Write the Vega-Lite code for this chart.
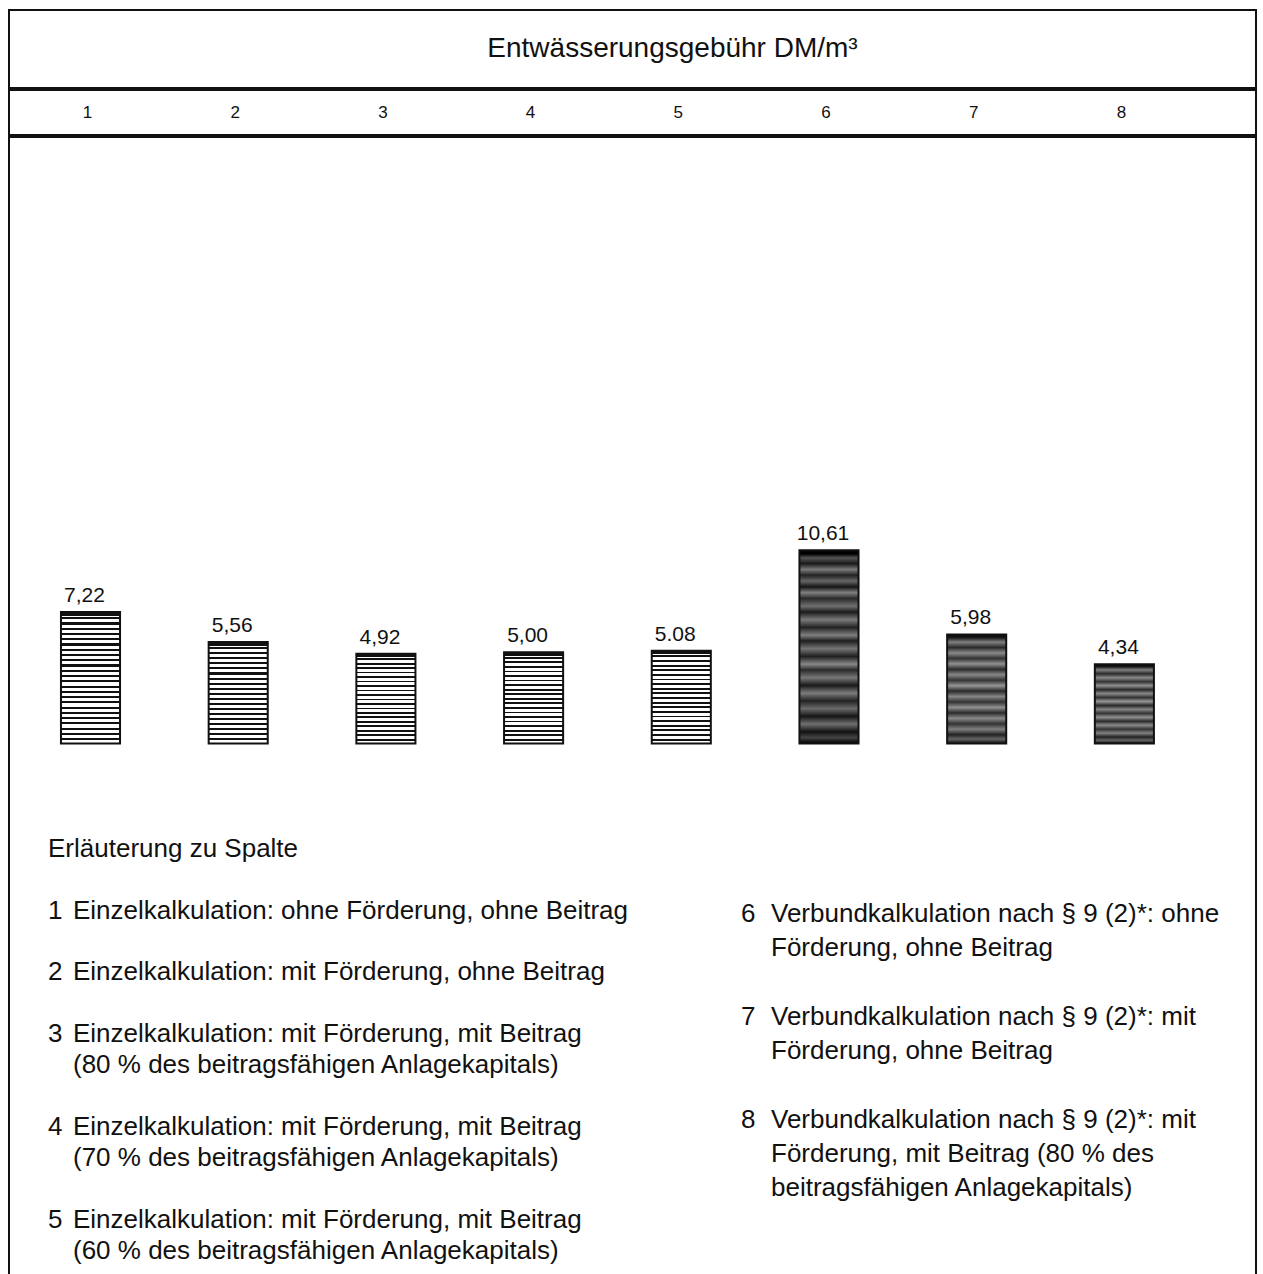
{
  "$schema": "https://vega.github.io/schema/vega-lite/v6.json",
  "padding": {"left": 8, "top": 9, "right": 0, "bottom": 0},
  "background": "white",
  "spacing": 0,
  "config": {
    "view": {"stroke": "#111", "strokeWidth": 2},
    "font": "Liberation Sans",
    "text": {"font": "Liberation Sans", "color": "#111"}
  },
  "datasets": {
    "saeulen": [
      {"n": 1, "wert": 7.22, "label": "7,22"},
      {"n": 2, "wert": 5.56, "label": "5,56"},
      {"n": 3, "wert": 4.92, "label": "4,92"},
      {"n": 4, "wert": 5.00, "label": "5,00"},
      {"n": 5, "wert": 5.08, "label": "5.08"},
      {"n": 6, "wert": 10.61, "label": "10,61"},
      {"n": 7, "wert": 5.98, "label": "5,98"},
      {"n": 8, "wert": 4.34, "label": "4,34"}
    ],
    "kopf": [{"zeile": 0, "text": "Erläuterung zu Spalte"}],
    "links": [
      {"zeile": 2, "nr": "1", "text": "Einzelkalkulation: ohne Förderung, ohne Beitrag"},
      {"zeile": 4, "nr": "2", "text": "Einzelkalkulation: mit Förderung, ohne Beitrag"},
      {"zeile": 6, "nr": "3", "text": "Einzelkalkulation: mit Förderung, mit Beitrag"},
      {"zeile": 7, "nr": "", "text": "(80 % des beitragsfähigen Anlagekapitals)"},
      {"zeile": 9, "nr": "4", "text": "Einzelkalkulation: mit Förderung, mit Beitrag"},
      {"zeile": 10, "nr": "", "text": "(70 % des beitragsfähigen Anlagekapitals)"},
      {"zeile": 12, "nr": "5", "text": "Einzelkalkulation: mit Förderung, mit Beitrag"},
      {"zeile": 13, "nr": "", "text": "(60 % des beitragsfähigen Anlagekapitals)"}
    ],
    "rechts": [
      {"zeile": 0, "nr": "6", "text": "Verbundkalkulation nach § 9 (2)*: ohne"},
      {"zeile": 1, "nr": "", "text": "Förderung, ohne Beitrag"},
      {"zeile": 3, "nr": "7", "text": "Verbundkalkulation nach § 9 (2)*: mit"},
      {"zeile": 4, "nr": "", "text": "Förderung, ohne Beitrag"},
      {"zeile": 6, "nr": "8", "text": "Verbundkalkulation nach § 9 (2)*: mit"},
      {"zeile": 7, "nr": "", "text": "Förderung, mit Beitrag (80 % des"},
      {"zeile": 8, "nr": "", "text": "beitragsfähigen Anlagekapitals)"}
    ]
  },
  "vconcat": [
    {
      "width": 1247,
      "height": 78,
      "view": {"stroke": "#111", "strokeWidth": 2, "fill": "white"},
      "data": {"values": [{"titel": "Entwässerungsgebühr DM/m³"}]},
      "mark": {"type": "text", "fontSize": 28, "dx": 40, "baseline": "middle"},
      "encoding": {"text": {"field": "titel"}}
    },
    {
      "width": 1247,
      "height": 45,
      "data": {"name": "saeulen"},
      "mark": {"type": "text", "fontSize": 17, "baseline": "middle"},
      "encoding": {
        "x": {"field": "n", "type": "ordinal", "scale": {"type": "band", "paddingInner": 0, "paddingOuter": 0.2215, "align": 0.071}, "axis": null},
        "text": {"field": "n"}
      }
    },
    {
      "width": 1247,
      "height": 1143,
      "resolve": {"scale": {"x": "independent", "y": "independent"}},
      "layer": [
        {
          "data": {"name": "saeulen"},
          "mark": {"type": "bar", "width": {"band": 0.4}, "stroke": "#111", "strokeWidth": 2},
          "encoding": {
            "x": {"field": "n", "type": "ordinal", "scale": {"type": "band", "paddingInner": 0, "paddingOuter": 0.2215, "align": 0.117}, "axis": null},
            "y": {"field": "wert", "type": "quantitative", "scale": {"domain": [-29.465, 33.295], "nice": false, "zero": false}, "axis": null},
            "y2": {"datum": 0},
            "fill": {
              "condition": [
                {"test": "datum.n == 1", "value": {"gradient": "linear", "x1": 0, "y1": 0, "x2": 0, "y2": 1, "stops": [
                  {"offset":0,"color":"#111"},{"offset":0.03,"color":"#111"},{"offset":0.03,"color":"#fff"},{"offset":0.04,"color":"#fff"},
                  {"offset":0.04,"color":"#111"},{"offset":0.056,"color":"#111"},{"offset":0.056,"color":"#fff"},{"offset":0.08,"color":"#fff"},
                  {"offset":0.08,"color":"#111"},{"offset":0.096,"color":"#111"},{"offset":0.096,"color":"#fff"},{"offset":0.12,"color":"#fff"},
                  {"offset":0.12,"color":"#111"},{"offset":0.136,"color":"#111"},{"offset":0.136,"color":"#fff"},{"offset":0.16,"color":"#fff"},
                  {"offset":0.16,"color":"#111"},{"offset":0.176,"color":"#111"},{"offset":0.176,"color":"#fff"},{"offset":0.2,"color":"#fff"},
                  {"offset":0.2,"color":"#111"},{"offset":0.216,"color":"#111"},{"offset":0.216,"color":"#fff"},{"offset":0.24,"color":"#fff"},
                  {"offset":0.24,"color":"#111"},{"offset":0.256,"color":"#111"},{"offset":0.256,"color":"#fff"},{"offset":0.28,"color":"#fff"},
                  {"offset":0.28,"color":"#111"},{"offset":0.296,"color":"#111"},{"offset":0.296,"color":"#fff"},{"offset":0.32,"color":"#fff"},
                  {"offset":0.32,"color":"#111"},{"offset":0.336,"color":"#111"},{"offset":0.336,"color":"#fff"},{"offset":0.36,"color":"#fff"},
                  {"offset":0.36,"color":"#111"},{"offset":0.376,"color":"#111"},{"offset":0.376,"color":"#fff"},{"offset":0.4,"color":"#fff"},
                  {"offset":0.4,"color":"#111"},{"offset":0.416,"color":"#111"},{"offset":0.416,"color":"#fff"},{"offset":0.44,"color":"#fff"},
                  {"offset":0.44,"color":"#111"},{"offset":0.456,"color":"#111"},{"offset":0.456,"color":"#fff"},{"offset":0.48,"color":"#fff"},
                  {"offset":0.48,"color":"#111"},{"offset":0.496,"color":"#111"},{"offset":0.496,"color":"#fff"},{"offset":0.52,"color":"#fff"},
                  {"offset":0.52,"color":"#111"},{"offset":0.536,"color":"#111"},{"offset":0.536,"color":"#fff"},{"offset":0.56,"color":"#fff"},
                  {"offset":0.56,"color":"#111"},{"offset":0.576,"color":"#111"},{"offset":0.576,"color":"#fff"},{"offset":0.6,"color":"#fff"},
                  {"offset":0.6,"color":"#111"},{"offset":0.616,"color":"#111"},{"offset":0.616,"color":"#fff"},{"offset":0.64,"color":"#fff"},
                  {"offset":0.64,"color":"#111"},{"offset":0.656,"color":"#111"},{"offset":0.656,"color":"#fff"},{"offset":0.68,"color":"#fff"},
                  {"offset":0.68,"color":"#111"},{"offset":0.696,"color":"#111"},{"offset":0.696,"color":"#fff"},{"offset":0.72,"color":"#fff"},
                  {"offset":0.72,"color":"#111"},{"offset":0.736,"color":"#111"},{"offset":0.736,"color":"#fff"},{"offset":0.76,"color":"#fff"},
                  {"offset":0.76,"color":"#111"},{"offset":0.776,"color":"#111"},{"offset":0.776,"color":"#fff"},{"offset":0.8,"color":"#fff"},
                  {"offset":0.8,"color":"#111"},{"offset":0.816,"color":"#111"},{"offset":0.816,"color":"#fff"},{"offset":0.84,"color":"#fff"},
                  {"offset":0.84,"color":"#111"},{"offset":0.856,"color":"#111"},{"offset":0.856,"color":"#fff"},{"offset":0.88,"color":"#fff"},
                  {"offset":0.88,"color":"#111"},{"offset":0.896,"color":"#111"},{"offset":0.896,"color":"#fff"},{"offset":0.92,"color":"#fff"},
                  {"offset":0.92,"color":"#111"},{"offset":0.936,"color":"#111"},{"offset":0.936,"color":"#fff"},{"offset":0.96,"color":"#fff"},
                  {"offset":0.96,"color":"#111"},{"offset":0.976,"color":"#111"},{"offset":0.976,"color":"#fff"},{"offset":1,"color":"#fff"}
                ]}},
                {"test": "datum.n <= 5", "value": {"gradient": "linear", "x1": 0, "y1": 0, "x2": 0, "y2": 1, "stops": [
                  {"offset":0,"color":"#111"},{"offset":0.035,"color":"#111"},{"offset":0.035,"color":"#fff"},{"offset":0.05,"color":"#fff"},
                  {"offset":0.05,"color":"#111"},{"offset":0.07,"color":"#111"},{"offset":0.07,"color":"#fff"},{"offset":0.1,"color":"#fff"},
                  {"offset":0.1,"color":"#111"},{"offset":0.12,"color":"#111"},{"offset":0.12,"color":"#fff"},{"offset":0.15,"color":"#fff"},
                  {"offset":0.15,"color":"#111"},{"offset":0.17,"color":"#111"},{"offset":0.17,"color":"#fff"},{"offset":0.2,"color":"#fff"},
                  {"offset":0.2,"color":"#111"},{"offset":0.22,"color":"#111"},{"offset":0.22,"color":"#fff"},{"offset":0.25,"color":"#fff"},
                  {"offset":0.25,"color":"#111"},{"offset":0.27,"color":"#111"},{"offset":0.27,"color":"#fff"},{"offset":0.3,"color":"#fff"},
                  {"offset":0.3,"color":"#111"},{"offset":0.32,"color":"#111"},{"offset":0.32,"color":"#fff"},{"offset":0.35,"color":"#fff"},
                  {"offset":0.35,"color":"#111"},{"offset":0.37,"color":"#111"},{"offset":0.37,"color":"#fff"},{"offset":0.4,"color":"#fff"},
                  {"offset":0.4,"color":"#111"},{"offset":0.42,"color":"#111"},{"offset":0.42,"color":"#fff"},{"offset":0.45,"color":"#fff"},
                  {"offset":0.45,"color":"#111"},{"offset":0.47,"color":"#111"},{"offset":0.47,"color":"#fff"},{"offset":0.5,"color":"#fff"},
                  {"offset":0.5,"color":"#111"},{"offset":0.52,"color":"#111"},{"offset":0.52,"color":"#fff"},{"offset":0.55,"color":"#fff"},
                  {"offset":0.55,"color":"#111"},{"offset":0.57,"color":"#111"},{"offset":0.57,"color":"#fff"},{"offset":0.6,"color":"#fff"},
                  {"offset":0.6,"color":"#111"},{"offset":0.62,"color":"#111"},{"offset":0.62,"color":"#fff"},{"offset":0.65,"color":"#fff"},
                  {"offset":0.65,"color":"#111"},{"offset":0.67,"color":"#111"},{"offset":0.67,"color":"#fff"},{"offset":0.7,"color":"#fff"},
                  {"offset":0.7,"color":"#111"},{"offset":0.72,"color":"#111"},{"offset":0.72,"color":"#fff"},{"offset":0.75,"color":"#fff"},
                  {"offset":0.75,"color":"#111"},{"offset":0.77,"color":"#111"},{"offset":0.77,"color":"#fff"},{"offset":0.8,"color":"#fff"},
                  {"offset":0.8,"color":"#111"},{"offset":0.82,"color":"#111"},{"offset":0.82,"color":"#fff"},{"offset":0.85,"color":"#fff"},
                  {"offset":0.85,"color":"#111"},{"offset":0.87,"color":"#111"},{"offset":0.87,"color":"#fff"},{"offset":0.9,"color":"#fff"},
                  {"offset":0.9,"color":"#111"},{"offset":0.92,"color":"#111"},{"offset":0.92,"color":"#fff"},{"offset":0.95,"color":"#fff"},
                  {"offset":0.95,"color":"#111"},{"offset":0.97,"color":"#111"},{"offset":0.97,"color":"#fff"},{"offset":1,"color":"#fff"}
                ]}},
                {"test": "datum.n == 6", "value": {"gradient": "linear", "x1": 0, "y1": 0, "x2": 0, "y2": 1, "stops": [
                  {"offset":0,"color":"#000"},{"offset":0.02,"color":"#000"},{"offset":0.04,"color":"#555"},{"offset":0.07,"color":"#1a1a1a"},
                  {"offset":0.1,"color":"#7a7a7a"},{"offset":0.13,"color":"#222"},{"offset":0.16,"color":"#666"},{"offset":0.19,"color":"#151515"},
                  {"offset":0.22,"color":"#808080"},{"offset":0.25,"color":"#2a2a2a"},{"offset":0.29,"color":"#707070"},{"offset":0.32,"color":"#1a1a1a"},
                  {"offset":0.36,"color":"#7a7a7a"},{"offset":0.4,"color":"#222"},{"offset":0.44,"color":"#808080"},{"offset":0.47,"color":"#1e1e1e"},
                  {"offset":0.51,"color":"#757575"},{"offset":0.55,"color":"#202020"},{"offset":0.59,"color":"#888"},{"offset":0.62,"color":"#2a2a2a"},
                  {"offset":0.66,"color":"#777"},{"offset":0.7,"color":"#1a1a1a"},{"offset":0.74,"color":"#7c7c7c"},{"offset":0.78,"color":"#222"},
                  {"offset":0.82,"color":"#6a6a6a"},{"offset":0.86,"color":"#151515"},{"offset":0.9,"color":"#707070"},{"offset":0.94,"color":"#111"},
                  {"offset":0.97,"color":"#444"},{"offset":1,"color":"#000"}
                ]}}
              ],
              "value": {"gradient": "linear", "x1": 0, "y1": 0, "x2": 0, "y2": 1, "stops": [
                {"offset":0,"color":"#000"},{"offset":0.03,"color":"#1a1a1a"},{"offset":0.07,"color":"#808080"},{"offset":0.12,"color":"#2a2a2a"},
                {"offset":0.17,"color":"#8a8a8a"},{"offset":0.22,"color":"#333"},{"offset":0.27,"color":"#909090"},{"offset":0.32,"color":"#2a2a2a"},
                {"offset":0.37,"color":"#888"},{"offset":0.42,"color":"#333"},{"offset":0.47,"color":"#959595"},{"offset":0.52,"color":"#2a2a2a"},
                {"offset":0.57,"color":"#858585"},{"offset":0.62,"color":"#333"},{"offset":0.67,"color":"#909090"},{"offset":0.72,"color":"#2a2a2a"},
                {"offset":0.77,"color":"#8a8a8a"},{"offset":0.82,"color":"#333"},{"offset":0.87,"color":"#808080"},{"offset":0.92,"color":"#222"},
                {"offset":0.96,"color":"#666"},{"offset":1,"color":"#111"}
              ]}
            }
          }
        },
        {
          "data": {"name": "saeulen"},
          "mark": {"type": "text", "fontSize": 21, "baseline": "bottom", "dy": -6, "dx": -6},
          "encoding": {
            "x": {"field": "n", "type": "ordinal", "scale": {"type": "band", "paddingInner": 0, "paddingOuter": 0.2215, "align": 0.117}, "axis": null},
            "y": {"field": "wert", "type": "quantitative", "scale": {"domain": [-29.465, 33.295], "nice": false, "zero": false}, "axis": null},
            "text": {"field": "label"}
          }
        },
        {
          "data": {"name": "kopf"},
          "mark": {"type": "text", "fontSize": 26, "align": "left", "baseline": "middle"},
          "encoding": {
            "x": {"datum": "links", "type": "nominal", "scale": {"type": "point", "padding": 0, "domain": ["links", "rechts"], "range": [39, 732]}, "axis": null},
            "y": {"field": "zeile", "type": "quantitative", "scale": {"domain": [-23.01, 13.947], "reverse": true, "nice": false, "zero": false}, "axis": null},
            "text": {"field": "text"}
          }
        },
        {
          "data": {"name": "links"},
          "mark": {"type": "text", "fontSize": 26, "align": "left", "baseline": "middle"},
          "encoding": {
            "x": {"datum": "links", "type": "nominal", "scale": {"type": "point", "padding": 0, "domain": ["links", "rechts"], "range": [39, 732]}, "axis": null},
            "y": {"field": "zeile", "type": "quantitative", "scale": {"domain": [-23.01, 13.947], "reverse": true, "nice": false, "zero": false}, "axis": null},
            "text": {"field": "nr"}
          }
        },
        {
          "data": {"name": "links"},
          "mark": {"type": "text", "fontSize": 26, "align": "left", "baseline": "middle", "dx": 25},
          "encoding": {
            "x": {"datum": "links", "type": "nominal", "scale": {"type": "point", "padding": 0, "domain": ["links", "rechts"], "range": [39, 732]}, "axis": null},
            "y": {"field": "zeile", "type": "quantitative", "scale": {"domain": [-23.01, 13.947], "reverse": true, "nice": false, "zero": false}, "axis": null},
            "text": {"field": "text"}
          }
        },
        {
          "data": {"name": "rechts"},
          "mark": {"type": "text", "fontSize": 26, "align": "left", "baseline": "middle"},
          "encoding": {
            "x": {"datum": "rechts", "type": "nominal", "scale": {"type": "point", "padding": 0, "domain": ["links", "rechts"], "range": [39, 732]}, "axis": null},
            "y": {"field": "zeile", "type": "quantitative", "scale": {"domain": [-22.6235, 10.6675], "reverse": true, "nice": false, "zero": false}, "axis": null},
            "text": {"field": "nr"}
          }
        },
        {
          "data": {"name": "rechts"},
          "mark": {"type": "text", "fontSize": 26, "align": "left", "baseline": "middle", "dx": 30},
          "encoding": {
            "x": {"datum": "rechts", "type": "nominal", "scale": {"type": "point", "padding": 0, "domain": ["links", "rechts"], "range": [39, 732]}, "axis": null},
            "y": {"field": "zeile", "type": "quantitative", "scale": {"domain": [-22.6235, 10.6675], "reverse": true, "nice": false, "zero": false}, "axis": null},
            "text": {"field": "text"}
          }
        }
      ]
    }
  ]
}
